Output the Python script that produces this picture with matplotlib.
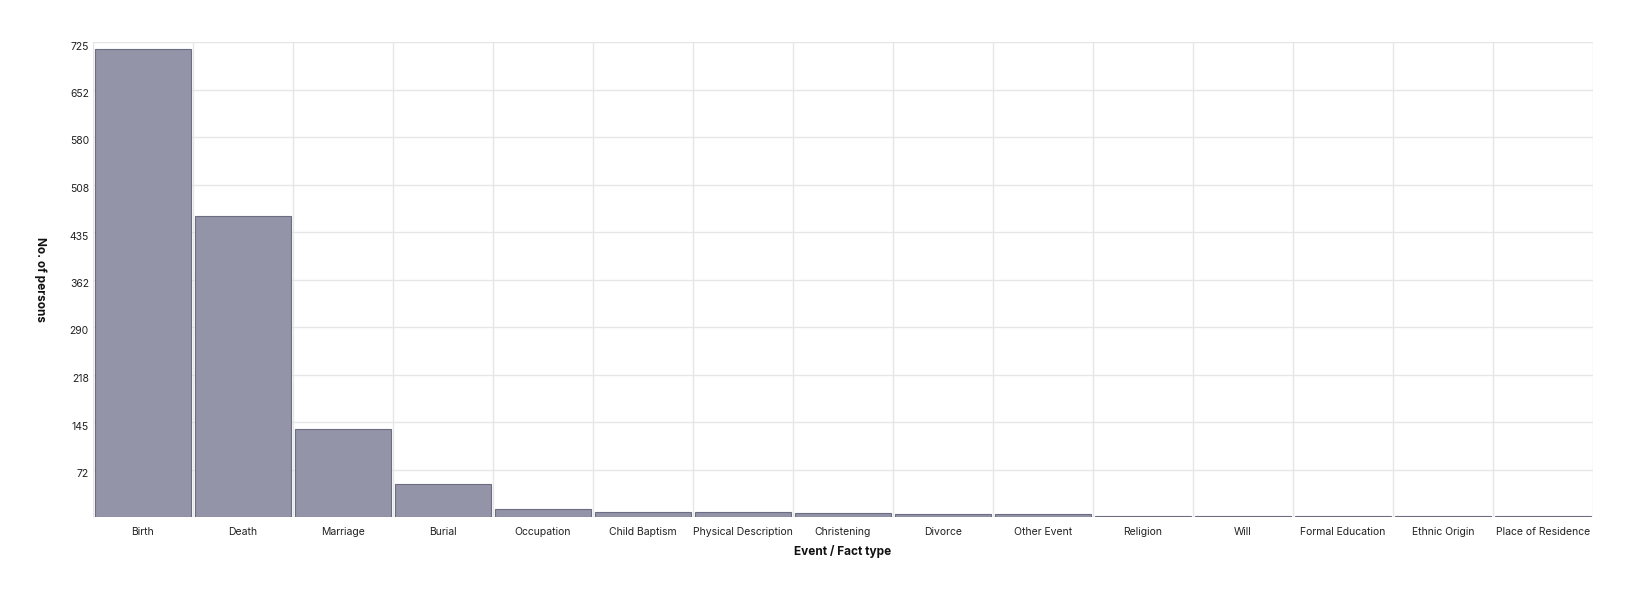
import numpy as np
import matplotlib
matplotlib.use("Agg")
import matplotlib.pyplot as plt
from matplotlib.transforms import ScaledTranslation

# ------------------------------------------------------------
# DATA
# ------------------------------------------------------------
event_types = [
    "Birth", "Death", "Marriage", "Burial", "Occupation",
    "Child Baptism", "Physical Description", "Christening", "Divorce",
    "Other Event", "Religion", "Will", "Formal Education",
    "Ethnic Origin", "Place of Residence",
]
n_persons = [714, 460, 135, 50, 12, 7, 7, 6, 5, 4, 2, 2, 2, 2, 1]

y_max = 725
y_ticks = np.linspace(0, y_max, 11)[1:]
y_tick_labels = [str(round(v)) for v in y_ticks]

# ------------------------------------------------------------
# FIGURE
# ------------------------------------------------------------
plt.rcParams['font.family'] = ['Inter', 'DejaVu Sans']

fig = plt.figure(figsize=(16.34, 5.94), dpi=100)
ax = fig.add_axes([93 / 1634, 1 - 517 / 594, 1500 / 1634, 475 / 594])

x = np.arange(len(event_types))
ax.bar(x, n_persons, width=0.96, color='#9394a8', edgecolor='#6c6d82',
       linewidth=0.8, zorder=3)

ax.set_xlim(-0.5, len(event_types) - 0.5)
ax.set_ylim(0, y_max)

# grid: horizontal at ticks, vertical at band edges
for yv in np.linspace(0, y_max, 11):
    ax.axhline(yv, color='#e6e6e6', linewidth=1, zorder=1)
for xv in np.arange(-0.5, len(event_types), 1.0):
    ax.axvline(xv, color='#e6e6e6', linewidth=1, zorder=1)

for side in ['top', 'right', 'left', 'bottom']:
    ax.spines[side].set_visible(False)

ax.set_xticks(x)
ax.set_xticklabels(event_types, fontsize=7.5, color='#222222')
ax.set_yticks(y_ticks)
ax.set_yticklabels(y_tick_labels, fontsize=7.5, color='#222222')
ax.tick_params(axis='x', length=0, pad=7)
ax.tick_params(axis='y', length=0, pad=3)

shift = ScaledTranslation(0, -3.5 / 100, fig.dpi_scale_trans)
for lab in ax.get_yticklabels():
    lab.set_transform(lab.get_transform() + shift)

ax.set_xlabel('Event / Fact type', fontsize=8.5, fontweight='bold',
              labelpad=6, color='#111111')
ax.set_ylabel('No. of persons', fontsize=8.5, fontweight='bold',
              rotation=-90, labelpad=21, color='#111111', va='center')

plt.savefig("out.png", dpi=100)
plt.close()
